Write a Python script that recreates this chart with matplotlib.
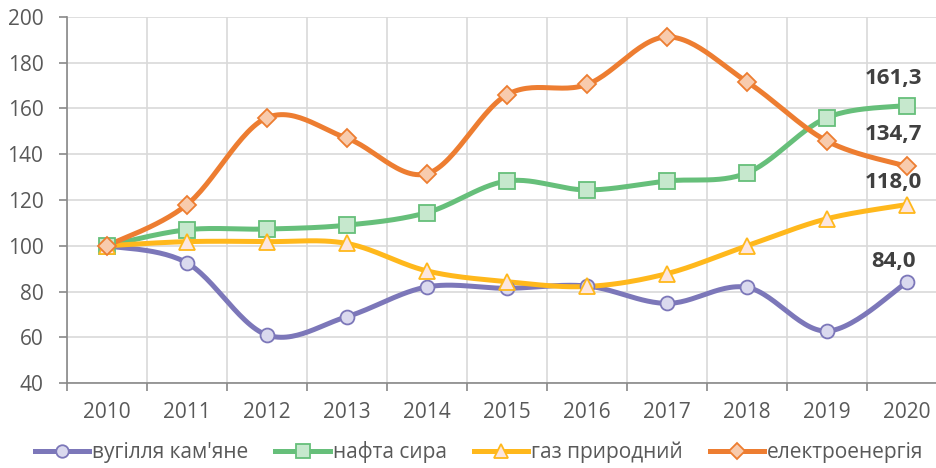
import numpy as np
import matplotlib.pyplot as plt

years = ['2010', '2011', '2012', '2013', '2014', '2015', '2016', '2017', '2018', '2019', '2020']
coal = [100, 92.5, 61.0, 69.0, 82.0, 81.4, 82.4, 74.8, 81.8, 62.7, 84.0]
oil = [100, 107.0, 107.3, 109.0, 114.5, 128.3, 124.4, 128.3, 131.8, 156.0, 161.3]
gas = [100, 101.8, 101.8, 101.0, 89.0, 84.3, 82.2, 87.8, 100.0, 111.8, 118.0]
power = [100, 118.0, 156.0, 147.0, 131.5, 166.0, 170.5, 191.3, 171.7, 145.8, 134.7]

names = ["вугілля кам'яне", 'нафта сира', 'газ природний', 'електроенергія']
line_colors = ['#7C77B9', '#66BF7A', '#FFB81C', '#ED7D31']
face_colors = ['#DAD9EE', '#C6E8CD', '#FCE6DF', '#F8CBAD']
markers = ['o', 's', '^', 'D']
msizes = [10, 11, 11, 9]


def smooth(x, y, n=30):
    # catmull-rom like excel smoothed lines
    x = np.asarray(x, float)
    y = np.asarray(y, float)
    px = np.concatenate([[x[0]], x, [x[-1]]])
    py = np.concatenate([[y[0]], y, [y[-1]]])
    xs, ys = [], []
    t = np.linspace(0, 1, n)
    for i in range(1, len(px) - 2):
        p0, p1, p2, p3 = px[i-1], px[i], px[i+1], px[i+2]
        q0, q1, q2, q3 = py[i-1], py[i], py[i+1], py[i+2]
        c1x, c2x = p1 + (p2 - p0) / 6, p2 - (p3 - p1) / 6
        c1y, c2y = q1 + (q2 - q0) / 6, q2 - (q3 - q1) / 6
        b0, b1, b2, b3 = (1-t)**3, 3*t*(1-t)**2, 3*t**2*(1-t), t**3
        xs.append(b0*p1 + b1*c1x + b2*c2x + b3*p2)
        ys.append(b0*q1 + b1*c1y + b2*c2y + b3*q2)
    return np.concatenate(xs), np.concatenate(ys)


plt.rcParams['font.family'] = ['Open Sans', 'DejaVu Sans']

fig = plt.figure(figsize=(9.36, 4.68), dpi=100)
ax = fig.add_axes([0.0716, 0.1816, 0.94, 0.7821])

x = np.arange(len(years))
series = [coal, oil, gas, power]
handles = []
for vals, name, lc, fc, m, ms in zip(series, names, line_colors, face_colors, markers, msizes):
    sx, sy = smooth(x, vals)
    ax.plot(sx, sy, color=lc, lw=3.6, solid_capstyle='round', zorder=3)
    ax.plot(x, vals, ls='none', marker=m, ms=ms, mfc=fc, mec=lc, mew=1.3, zorder=4)
    h, = ax.plot([], [], color=lc, lw=3.6, marker=m, ms=ms * 0.9, mfc=fc, mec=lc, mew=1.3)
    handles.append(h)

# labels at last point
label_pos = [(coal[-1], 261), (oil[-1], 79), (gas[-1], 183), (power[-1], 135)]
for val, py in label_pos:
    yv = 200 - (py - 17) / 2.2875
    ax.text(9.83, yv, f'{val:.1f}'.replace('.', ','), ha='center', va='center',
            fontsize=16, fontweight='bold', color='#404040', zorder=5)

ax.set_xlim(-0.5, len(years) - 0.5)
ax.set_ylim(40, 200)
ax.set_yticks(np.arange(40, 201, 20))
ax.set_xticks(x)
ax.set_xticklabels(years)
ax.set_xticks(np.arange(-0.5, len(years), 1), minor=True)

ax.grid(True, which='major', axis='y', color='#D9D9D9', lw=1.2)
ax.grid(True, which='minor', axis='x', color='#D9D9D9', lw=1.2)
ax.set_axisbelow(True)

for s in ['top', 'right']:
    ax.spines[s].set_visible(False)
for s in ['left', 'bottom']:
    ax.spines[s].set_color('#898989')
    ax.spines[s].set_linewidth(1.2)

ax.tick_params(axis='y', length=6, width=1.2, color='#898989', labelsize=15, labelcolor='#595959', pad=11)
ax.tick_params(axis='x', which='major', length=0, labelsize=15, labelcolor='#595959', pad=14)
ax.tick_params(axis='x', which='minor', length=6, width=1.2, color='#898989')

fig.legend(handles, names, loc='center', bbox_to_anchor=(0.512, 0.034), ncol=4, frameon=False,
           fontsize=15, labelcolor='#595959', handlelength=2.6, handletextpad=0.15,
           columnspacing=1.3, borderaxespad=0)

fig.savefig('out.png', dpi=100)
